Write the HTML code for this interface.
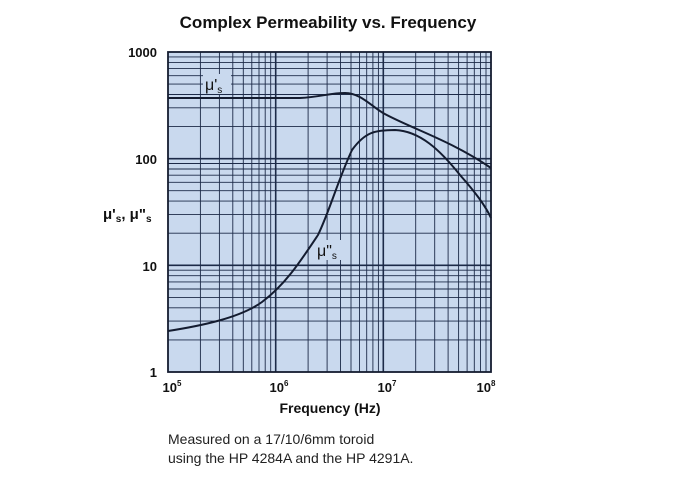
<!DOCTYPE html>
<html><head><style>
body{margin:0;background:#fff;width:700px;height:477px;overflow:hidden;font-family:"Liberation Sans",Arial,sans-serif}
</style></head><body>
<svg width="700" height="477" xmlns="http://www.w3.org/2000/svg" font-family="Liberation Sans, Arial, sans-serif">
<text x="328" y="28" text-anchor="middle" font-size="17" font-weight="bold" fill="#111">Complex Permeability vs. Frequency</text>
<rect x="168" y="52" width="323" height="320" fill="#c9d9ee"/>
<path stroke="#1c2a48" stroke-width="0.9" fill="none" d="
M200.4,52V372M219.4,52V372M232.8,52V372M243.3,52V372M251.8,52V372M259,52V372M265.2,52V372M270.7,52V372
M308.1,52V372M327.1,52V372M340.5,52V372M351,52V372M359.5,52V372M366.7,52V372M372.9,52V372M378.4,52V372
M415.7,52V372M434.7,52V372M448.1,52V372M458.6,52V372M467.1,52V372M474.3,52V372M480.5,52V372M486,52V372
M168,339.9H491M168,321.1H491M168,307.8H491M168,297.4H491M168,289H491M168,281.9H491M168,275.7H491M168,270.2H491
M168,233.2H491M168,214.4H491M168,201.1H491M168,190.7H491M168,182.3H491M168,175.2H491M168,169H491M168,163.5H491
M168,126.6H491M168,107.8H491M168,94.5H491M168,84.1H491M168,75.7H491M168,68.6H491M168,62.4H491M168,56.9H491"/>
<path stroke="#1c2a48" stroke-width="1.6" fill="none" d="M275.7,52V372M383.3,52V372M168,265.3H491M168,158.7H491"/>
<g fill="#111" font-weight="bold" font-size="13" text-anchor="end">
<text x="157" y="57">1000</text><text x="157" y="164">100</text><text x="157" y="271">10</text><text x="157" y="377">1</text>
</g>
<g fill="#111" font-weight="bold" font-size="13" text-anchor="middle">
<text x="172" y="392">10<tspan font-size="8" dy="-6">5</tspan></text>
<text x="279" y="392">10<tspan font-size="8" dy="-6">6</tspan></text>
<text x="387" y="392">10<tspan font-size="8" dy="-6">7</tspan></text>
<text x="486" y="392">10<tspan font-size="8" dy="-6">8</tspan></text>
<text x="330" y="413" font-size="14">Frequency (Hz)</text>
</g>
<text x="103" y="219" font-size="15" font-weight="bold" fill="#111">μ'<tspan font-size="10" dy="3">s</tspan><tspan dy="-3">, μ"</tspan><tspan font-size="10" dy="3">s</tspan></text>
<rect x="203" y="74" width="28" height="20" fill="#c9d9ee"/>
<text x="205" y="90" font-size="16" fill="#111">μ'<tspan font-size="10" dy="3">s</tspan></text>
<rect x="315" y="240" width="28" height="20" fill="#c9d9ee"/>
<text x="317" y="256" font-size="16" fill="#111">μ"<tspan font-size="10" dy="3">s</tspan></text>
<g fill="none" stroke="#141c30" stroke-width="2">
<path d="M168,98 L300,98 C320,97 330,93 345,93 C360,93 370,105 383,113 C410,128 450,140 491,168"/>
<path d="M168,331 C200,326 240,318 262,302 C285,285 300,262 318,235 C330,210 338,180 352,150 C365,132 375,130 395,130 C420,131 440,150 460,175 C475,192 485,205 491,218"/>
</g>
<rect x="168" y="52" width="323" height="320" fill="none" stroke="#141c30" stroke-width="1.8"/>
<text x="168" y="444" font-size="14" fill="#222">Measured on a 17/10/6mm toroid</text>
<text x="168" y="463" font-size="14" fill="#222">using the HP 4284A and the HP 4291A.</text>
</svg>
</body></html>
